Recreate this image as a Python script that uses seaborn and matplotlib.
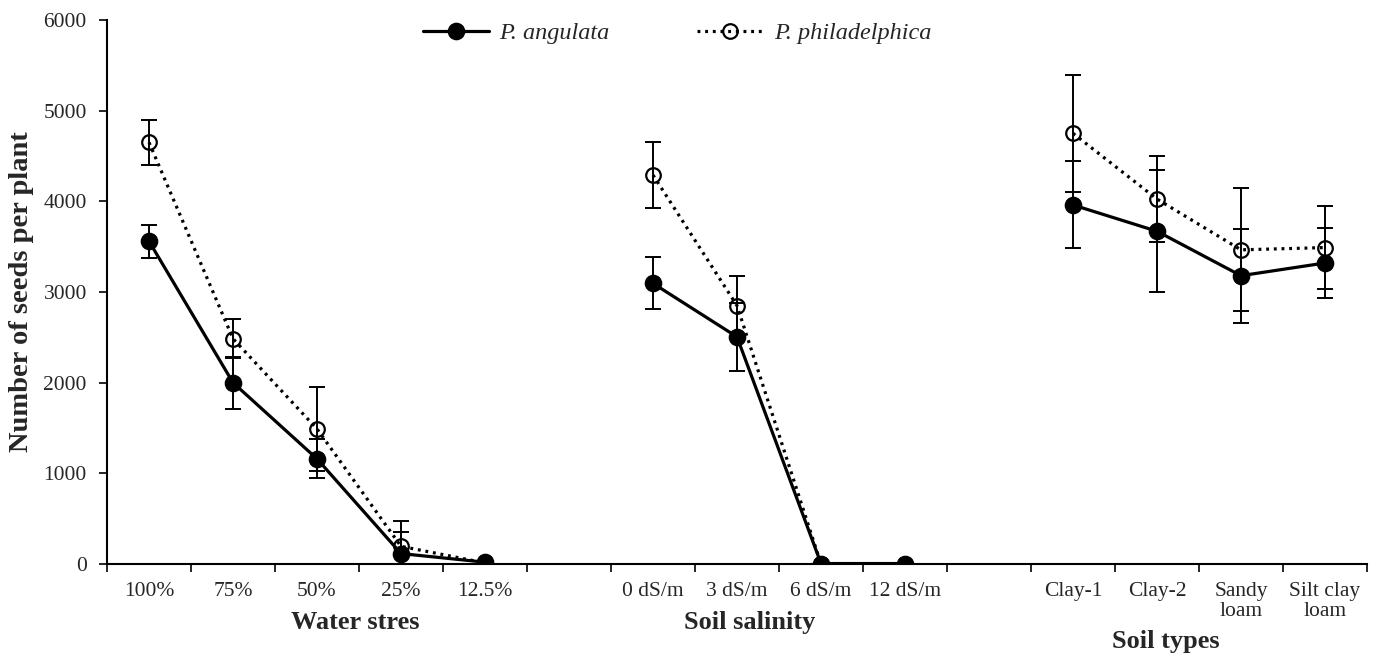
import matplotlib
matplotlib.use("Agg")
import matplotlib.pyplot as plt
from matplotlib.lines import Line2D
import seaborn as sns
import pandas as pd

# x slots (blank strings are the empty gaps between treatment groups)
slot_labels = ['100%', '75%', '50%', '25%', '12.5%', '',
               '0 dS/m', '3 dS/m', '6 dS/m', '12 dS/m', '',
               'Clay-1', 'Clay-2', 'Sandy\nloam', 'Silt clay\nloam']

groups = ['Water stres', 'Soil salinity', 'Soil types']
group_levels = [['100%', '75%', '50%', '25%', '12.5%'],
                ['0 dS/m', '3 dS/m', '6 dS/m', '12 dS/m'],
                ['Clay-1', 'Clay-2', 'Sandy\nloam', 'Silt clay\nloam']]

# P. angulata
ang_mean = [3560, 2000, 1160, 115, 20,
            3095, 2505, 5, 5,
            3960, 3670, 3180, 3320]
ang_err = [180, 285, 215, 240, 10,
           287, 375, 0, 0,
           480, 675, 520, 390]

# P. philadelphica
phi_mean = [4650, 2485, 1490, 195, 12,
            4290, 2850, 0, 0,
            4750, 4025, 3465, 3490]
phi_err = [250, 215, 465, 283, 8,
           360, 330, 0, 0,
           645, 475, 680, 455]

species = ['P. angulata', 'P. philadelphica']

rows = []
i = 0
for g, levels in zip(groups, group_levels):
    for lv in levels:
        pos = slot_labels.index(lv)
        rows.append(dict(group=g, level=lv, pos=pos, species=species[0],
                         value=ang_mean[i], err=ang_err[i]))
        rows.append(dict(group=g, level=lv, pos=pos, species=species[1],
                         value=phi_mean[i], err=phi_err[i]))
        i += 1
df = pd.DataFrame(rows)

sns.set_style('ticks')
plt.rcParams['font.family'] = ['Liberation Serif', 'DejaVu Serif']

fig = plt.figure(figsize=(13.82, 6.54), dpi=100)
ax = fig.add_axes([107 / 1382, 1 - 564 / 654, 1260 / 1382, 544 / 654])

styles = {
    'P. angulata': dict(linestyle='-', marker='o', markerfacecolor='black',
                        markeredgecolor='black', markersize=11.5, markeredgewidth=1.2),
    'P. philadelphica': dict(linestyle=(0, (0.9, 1.5)), marker='o', markerfacecolor='none',
                             markeredgecolor='black', markersize=10.5, markeredgewidth=1.6),
}

for g in groups:
    for sp in species:
        sub = df[(df.group == g) & (df.species == sp)]
        ax.errorbar(sub.pos, sub.value, yerr=sub.err, fmt='none', ecolor='black',
                    elinewidth=1.4, capsize=6, capthick=1.4, zorder=2)
        sns.lineplot(data=sub, x='pos', y='value', ax=ax, color='black', linewidth=2.3,
                     sort=False, legend=False, zorder=3, **styles[sp])

ax.set_xlim(-0.5, len(slot_labels) - 0.5)
ax.set_ylim(0, 6000)
ax.set_yticks(range(0, 6001, 1000))
ax.set_xticks(range(len(slot_labels)))
ax.set_xticklabels(slot_labels)
ax.set_xticks([k - 0.5 for k in range(len(slot_labels) + 1)], minor=True)
ax.tick_params(axis='x', which='major', length=0, pad=13, labelsize=15.5)
ax.tick_params(axis='x', which='minor', length=6, width=1.4, direction='out')
ax.tick_params(axis='y', length=6, width=1.4, direction='out', labelsize=15.5, pad=8.5)
for lab in ax.get_xticklabels():
    lab.set_linespacing(1.05)

sns.despine(ax=ax)
for s in ['left', 'bottom']:
    ax.spines[s].set_linewidth(1.5)
    ax.spines[s].set_color('black')

ax.set_xlabel('')
ax.set_ylabel('Number of seeds per plant', fontsize=20.5, fontweight='bold')
ax.yaxis.set_label_coords(-73 / 1260, 0.5)

# group titles under the axis
trans = ax.get_xaxis_transform()
ax.text(2.45, -0.107, 'Water stres', transform=trans, ha='center', va='center',
        fontsize=19, fontweight='bold')
ax.text(7.15, -0.107, 'Soil salinity', transform=trans, ha='center', va='center',
        fontsize=19, fontweight='bold')
ax.text(12.1, -0.143, 'Soil types', transform=trans, ha='center', va='center',
        fontsize=19, fontweight='bold')

handles = [Line2D([], [], color='black', linewidth=2.3, **styles[sp]) for sp in species]
fig.legend(handles, species, loc='center', bbox_to_anchor=(677 / 1382, 1 - 33 / 654),
           ncol=2, frameon=False, handlelength=2.7, handletextpad=0.45, columnspacing=3.6,
           prop=dict(family='Liberation Serif', style='italic', size=17.5))

fig.savefig('out.png', dpi=100)
